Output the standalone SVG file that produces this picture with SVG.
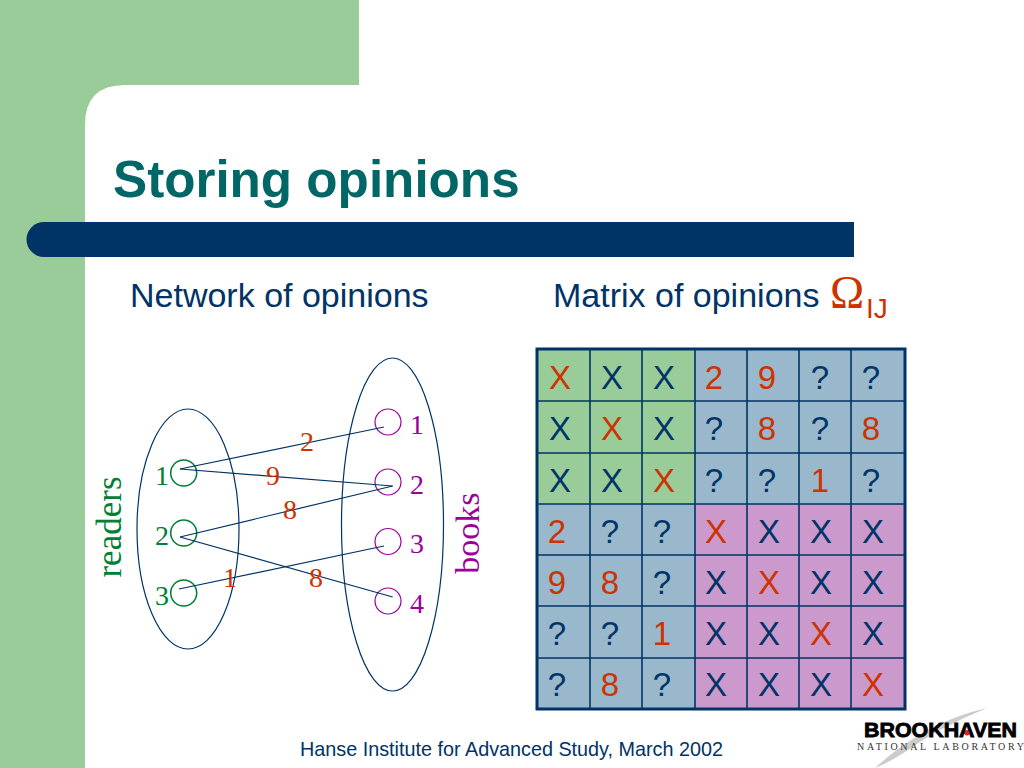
<svg xmlns="http://www.w3.org/2000/svg" width="1024" height="768" viewBox="0 0 1024 768">
<style>
.s{font-family:"Liberation Sans",Arial,sans-serif}
.t{font-family:"Liberation Serif","Times New Roman",serif}
.cell{font-family:"Liberation Sans",Arial,sans-serif;font-size:33px;text-anchor:middle;fill:#003366}
.r{fill:#cc3300}
.rl{font-family:"Liberation Serif","Times New Roman",serif;font-size:28px;text-anchor:middle;fill:#cc3300}
.g{font-family:"Liberation Serif","Times New Roman",serif;font-size:28px;text-anchor:middle;fill:#008033}
.p{font-family:"Liberation Serif","Times New Roman",serif;font-size:28px;text-anchor:middle;fill:#990099}
.o{fill:none;stroke:#003366;stroke-width:1.2}
.gl{stroke:#003366;stroke-width:1.6}
</style>
<rect width="1024" height="768" fill="#ffffff"/>
<g id="background">
<path d="M0 0H359V85H125Q85 85 85 125V768H0Z" fill="#99cc99"/>
<path d="M44 222H854V257H44A17.500 17.500 0 0 1 44 222Z" fill="#003366"/>
</g>
<text id="title" class="s" x="113" y="197" font-size="51.200" font-weight="bold" fill="#006666">Storing opinions</text>
<text id="left-heading" class="s" x="130" y="307" font-size="34" fill="#003366">Network of opinions</text>
<g id="right-heading">
<text class="s" x="553" y="307" font-size="34" fill="#003366">Matrix of opinions</text>
<text class="t" x="830" y="308" font-size="46" fill="#cc3300">Ω</text>
<text class="s" x="866" y="318" font-size="28" fill="#cc3300">IJ</text>
</g>
<g id="readers-set">
<ellipse class="o" cx="188" cy="529" rx="51" ry="120"/>
<text x="121" y="527" font-size="35" class="t" fill="#008033" text-anchor="middle" transform="rotate(-90 121 527)">readers</text>
</g>
<g id="books-set">
<ellipse class="o" cx="392.500" cy="524.500" rx="51" ry="166.500"/>
<text x="479" y="533" font-size="34" class="t" fill="#990099" text-anchor="middle" transform="rotate(-90 479 533)">books</text>
</g>
<g id="reader-1"><circle cx="183.700" cy="473" r="13" fill="none" stroke="#008033" stroke-width="1.500"/><text class="g" x="162" y="485">1</text></g>
<g id="reader-2"><circle cx="183.700" cy="533" r="13" fill="none" stroke="#008033" stroke-width="1.500"/><text class="g" x="162" y="545">2</text></g>
<g id="reader-3"><circle cx="183.700" cy="593" r="13" fill="none" stroke="#008033" stroke-width="1.500"/><text class="g" x="162" y="605">3</text></g>
<g id="book-1"><circle cx="388" cy="422" r="13" fill="none" stroke="#990099" stroke-width="1.200"/><text class="p" x="417" y="434">1</text></g>
<g id="book-2"><circle cx="388" cy="482" r="13" fill="none" stroke="#990099" stroke-width="1.200"/><text class="p" x="417" y="494">2</text></g>
<g id="book-3"><circle cx="388" cy="541.500" r="13" fill="none" stroke="#990099" stroke-width="1.200"/><text class="p" x="417" y="553">3</text></g>
<g id="book-4"><circle cx="388" cy="601" r="13" fill="none" stroke="#990099" stroke-width="1.200"/><text class="p" x="417" y="613">4</text></g>
<g id="connectors" class="o">
<path d="M180 469L384 427"/>
<path d="M180 469L392.700 486"/>
<path d="M180 537L392.700 486"/>
<path d="M180 537L392.700 597"/>
<path d="M179 589L384 546"/>
</g>
<g id="connector-labels">
<text class="rl" x="307" y="451">2</text>
<text class="rl" x="273" y="485">9</text>
<text class="rl" x="290" y="519">8</text>
<text class="rl" x="230" y="587">1</text>
<text class="rl" x="316" y="587">8</text>
</g>
<g id="matrix">
<rect x="537" y="349" width="158" height="155" fill="#99cc99"/>
<rect x="695" y="349" width="210" height="155" fill="#99b8cc"/>
<rect x="537" y="504" width="158" height="205" fill="#99b8cc"/>
<rect x="695" y="504" width="210" height="205" fill="#cc99cc"/>
<g class="gl">
<path d="M590 349V709M642 349V709M695 349V709M747 349V709M799 349V709M851 349V709"/>
<path d="M537 401H905M537 453H905M537 504H905M537 555H905M537 606H905M537 658H905"/>
</g>
<rect x="537" y="349" width="368" height="360" fill="none" stroke="#003366" stroke-width="3"/>
<g class="cell">
<text class="r" x="560" y="389">X</text><text x="612" y="389">X</text><text x="664" y="389">X</text><text class="r" x="714" y="389">2</text><text class="r" x="767" y="389">9</text><text x="820" y="389">?</text><text x="871" y="389">?</text>
<text x="560" y="440">X</text><text class="r" x="612" y="440">X</text><text x="664" y="440">X</text><text x="714" y="440">?</text><text class="r" x="767" y="440">8</text><text x="820" y="440">?</text><text class="r" x="871" y="440">8</text>
<text x="560" y="492">X</text><text x="612" y="492">X</text><text class="r" x="664" y="492">X</text><text x="714" y="492">?</text><text x="767" y="492">?</text><text class="r" x="820" y="492">1</text><text x="871" y="492">?</text>
<text class="r" x="557" y="543">2</text><text x="610" y="543">?</text><text x="662" y="543">?</text><text class="r" x="716" y="543">X</text><text x="769" y="543">X</text><text x="821" y="543">X</text><text x="873" y="543">X</text>
<text class="r" x="557" y="594">9</text><text class="r" x="610" y="594">8</text><text x="662" y="594">?</text><text x="716" y="594">X</text><text class="r" x="769" y="594">X</text><text x="821" y="594">X</text><text x="873" y="594">X</text>
<text x="557" y="645">?</text><text x="610" y="645">?</text><text class="r" x="662" y="645">1</text><text x="716" y="645">X</text><text x="769" y="645">X</text><text class="r" x="821" y="645">X</text><text x="873" y="645">X</text>
<text x="557" y="696">?</text><text class="r" x="610" y="696">8</text><text x="662" y="696">?</text><text x="716" y="696">X</text><text x="769" y="696">X</text><text x="821" y="696">X</text><text class="r" x="873" y="696">X</text>
</g>
</g>
<text id="footer" class="s" x="300" y="756" font-size="19.800" fill="#003366">Hanse Institute for Advanced Study, March 2002</text>
<g id="logo">
<path d="M875 768Q925 722 987 708Q940 727 905 752Q890 762 875 768Z" fill="#cccccc"/>
<text class="s" x="864" y="737" font-size="19.500" font-weight="bold" stroke="#000" stroke-width=".8" textLength="153" lengthAdjust="spacingAndGlyphs" fill="#000">BROOKHAVEN</text>
<circle cx="967" cy="733" r="2.500" fill="#d8232a"/>
<text class="t" x="857" y="750" font-size="10" textLength="167" fill="#333333">NATIONAL LABORATORY</text>
</g>
</svg>
